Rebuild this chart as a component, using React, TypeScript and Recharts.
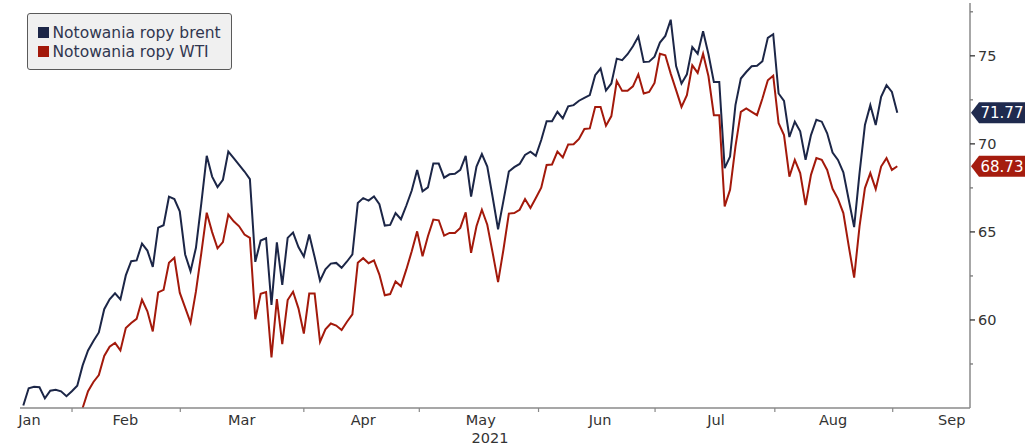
import { LineChart, Line, XAxis, YAxis, ReferenceLine } from 'recharts'

const FONT = "'DejaVu Sans', Verdana, sans-serif"

// daily closes, one per trading session (mid Jan - end Aug 2021)
const brent = [
  55.14, 56.12, 56.21, 56.18, 55.55, 55.98, 56.04, 55.95, 55.67, 55.95,
  56.27, 57.42, 58.27, 58.81, 59.29, 60.61, 61.17, 61.51, 61.17, 62.53,
  63.34, 63.38, 64.34, 63.94, 63.01, 65.24, 65.38, 67.0, 66.87, 66.17,
  63.72, 62.77, 64.1, 66.64, 69.32, 68.14, 67.55, 67.96, 69.56, 69.19,
  68.81, 68.43, 68.0, 63.3, 64.51, 64.64, 60.86, 64.41, 61.99, 64.66,
  64.96, 64.14, 63.6, 64.85, 63.57, 62.23, 62.87, 63.2, 63.24, 62.96,
  63.32, 63.72, 66.64, 66.92, 66.78, 67.01, 66.57, 65.36, 65.4, 66.07,
  65.72, 66.5, 67.35, 68.52, 67.3, 67.53, 68.88, 68.88, 68.08, 68.27,
  68.3, 68.52, 69.32, 67.01, 68.71, 69.42, 68.71, 66.97, 65.15, 66.78,
  68.43, 68.68, 68.86, 69.37, 69.56, 69.32, 70.22, 71.28, 71.28, 71.82,
  71.45, 72.13, 72.2, 72.45, 72.61, 72.77, 73.9, 74.28, 73.03, 73.43,
  74.84, 74.75, 75.09, 75.54, 76.09, 74.65, 74.67, 74.95, 75.75, 76.13,
  77.05, 74.42, 73.43, 73.95, 75.5, 75.12, 76.4, 75.09, 73.52, 73.52,
  68.62, 69.28, 72.2, 73.71, 74.08, 74.41, 74.43, 74.69, 76.02, 76.23,
  72.86, 72.44, 70.39, 71.26, 70.71, 69.09, 70.5, 71.37, 71.26, 70.6,
  69.51, 69.09, 68.38, 66.83, 65.27, 68.34, 71.07, 72.2, 71.07, 72.67,
  73.33, 72.95, 71.77,
]

const wti = [
  null, null, null, null, null, null, null, null, null, null,
  null, 55.0, 55.95, 56.48, 56.87, 57.96, 58.48, 58.7, 58.27, 59.54,
  59.83, 60.06, 61.15, 60.49, 59.35, 61.57, 61.71, 63.25, 63.53, 61.55,
  60.7, 59.85, 61.62, 63.81, 66.09, 64.99, 64.07, 64.42, 65.98, 65.6,
  65.32, 64.85, 64.66, 60.04, 61.48, 61.58, 57.87, 61.19, 58.63, 61.13,
  61.6, 60.66, 59.23, 61.5, 61.5, 58.76, 59.47, 59.8, 59.68, 59.43,
  59.9, 60.32, 63.25, 63.51, 63.22, 63.38, 62.58, 61.4, 61.47, 62.19,
  61.92, 62.87, 63.9, 65.03, 63.62, 64.75, 65.7, 65.66, 64.79, 64.94,
  64.94, 65.23, 66.11, 63.81, 65.32, 66.26, 65.41, 63.81, 62.15, 64.0,
  66.04, 66.07, 66.26, 66.87, 66.36, 66.92, 67.51, 68.8, 68.83, 69.56,
  69.23, 69.97, 69.98, 70.28, 70.85, 70.88, 72.1, 72.1, 71.03, 71.58,
  73.57, 73.01, 73.01, 73.27, 73.95, 72.86, 72.95, 73.46, 75.12, 75.03,
  73.99, 73.05, 72.1, 72.77, 74.46, 74.03, 75.12, 73.84, 71.63, 71.63,
  66.45, 67.39, 69.84, 71.82, 72.01, 71.82, 71.63, 72.58, 73.61, 73.87,
  71.17, 70.5, 68.14, 69.09, 68.34, 66.52, 68.24, 69.19, 69.09, 68.52,
  67.45, 66.88, 66.07, 64.19, 62.4, 65.32, 67.49, 68.34, 67.43, 68.71,
  69.19, 68.52, 68.73,
]

// month boundaries and month label centres, in session units
const monthBounds = [9.03, 29.1, 52.0, 73.4, 95.5, 117.1, 139.3, 161.15]
const monthNames = ['Jan', 'Feb', 'Mar', 'Apr', 'May', 'Jun', 'Jul', 'Aug', 'Sep']
const monthCentres = [1.15, 18.9, 40.5, 63.0, 84.8, 106.9, 128.4, 150.1, 172.1]
const yearLabel = '2021'

const yMajor = [60, 65, 70, 75]
const yMinor = [57.5, 62.5, 67.5, 72.5, 77.5]

const series = [
  { key: 'brent', name: 'Notowania ropy brent', color: '#1c2647', tag: '#1f2a4e' },
  { key: 'wti', name: 'Notowania ropy WTI', color: '#a3190b', tag: '#a51c0e' },
]

const data = brent.map((b, i) => ({ t: i, brent: b, wti: wti[i] }))
const xTicks = [...monthBounds, ...monthCentres].sort((a, b) => a - b)
const yTicks = [...yMajor, ...yMinor].sort((a, b) => a - b)

function XTick(props: any) {
  const { x, y, payload } = props
  const li = monthCentres.indexOf(payload.value)
  if (li >= 0) {
    return (
      <text x={x} y={y + 17} textAnchor="middle" fontSize={14.5} fill="#333" fontFamily={FONT}>
        {monthNames[li]}
      </text>
    )
  }
  return <line x1={x} x2={x} y1={y} y2={y + 4} stroke="#888" strokeWidth={1.2} />
}

function YTick(props: any) {
  const { x, y, payload } = props
  const major = yMajor.includes(payload.value)
  return (
    <g>
      <line x1={x} x2={x + (major ? 5 : 3)} y1={y} y2={y} stroke={major ? '#333' : '#777'} strokeWidth={1.3} />
      {major && (
        <text x={x + 8} y={y} dy="0.36em" fontSize={14.5} fill="#333" fontFamily={FONT}>
          {payload.value}
        </text>
      )}
    </g>
  )
}

function Tag(props: any) {
  const { viewBox, fill, text } = props
  if (!viewBox) return null
  const tip = viewBox.x + viewBox.width + 1
  const cy = viewBox.y
  const h = 10.5
  const body = tip + 8
  const right = 1025
  return (
    <g>
      <path d={`M${tip},${cy} L${body},${cy - h} L${right},${cy - h} L${right},${cy + h} L${body},${cy + h} Z`} fill={fill} />
      <text x={(body + right) / 2} y={cy} dy="0.36em" textAnchor="middle" fill="#fff" fontSize={15} fontFamily={FONT}>
        {text}
      </text>
    </g>
  )
}

export default function App() {
  const lastB = brent[brent.length - 1]
  const lastW = wti[wti.length - 1] as number
  return (
    <div style={{ position: 'absolute', left: 0, top: 0, width: 1031, height: 448, background: '#fff' }}>
      <LineChart width={1031} height={448} data={data} margin={{ top: 3, right: 0, bottom: 0, left: 20 }}>
        <XAxis
          dataKey="t"
          type="number"
          domain={[-0.612, 175.475]}
          ticks={xTicks}
          interval={0}
          tick={<XTick />}
          tickLine={false}
          tickSize={0}
          tickMargin={0}
          height={40}
          axisLine={{ stroke: '#8a8a8a', strokeWidth: 1.5 }}
          label={{ value: yearLabel, position: 'insideBottom', offset: 5, dx: -5, fill: '#333', fontSize: 14.5, fontFamily: FONT }}
        />
        <YAxis
          orientation="right"
          type="number"
          domain={[55, 78]}
          ticks={yTicks}
          interval={0}
          width={61}
          tick={<YTick />}
          tickLine={false}
          tickSize={0}
          tickMargin={0}
          axisLine={{ stroke: '#8a8a8a', strokeWidth: 1.5 }}
        />
        {series.map(s => (
          <Line key={s.key} type="linear" dataKey={s.key} stroke={s.color} strokeWidth={2}
            dot={false} activeDot={false} isAnimationActive={false} />
        ))}
        <ReferenceLine y={lastB} stroke="none" label={<Tag fill={series[0].tag} text={lastB.toFixed(2)} />} />
        <ReferenceLine y={lastW} stroke="none" label={<Tag fill={series[1].tag} text={lastW.toFixed(2)} />} />
      </LineChart>
      <div style={{
        position: 'absolute', left: 27, top: 12.5, width: 205, height: 57, boxSizing: 'border-box',
        background: '#f0f0f0', border: '1px solid #5a5a5a', borderRadius: 3,
      }} />
      {series.map((s, i) => (
        <div key={s.key}>
          <div style={{ position: 'absolute', left: 37.5, top: 27 + 19 * i, width: 11, height: 11, background: s.color }} />
          <div style={{
            position: 'absolute', left: 52.5, top: 24 + 19 * i, fontFamily: FONT, fontSize: 15.5,
            lineHeight: '18px', color: '#30364f', whiteSpace: 'nowrap',
          }}>{s.name}</div>
        </div>
      ))}
    </div>
  )
}
